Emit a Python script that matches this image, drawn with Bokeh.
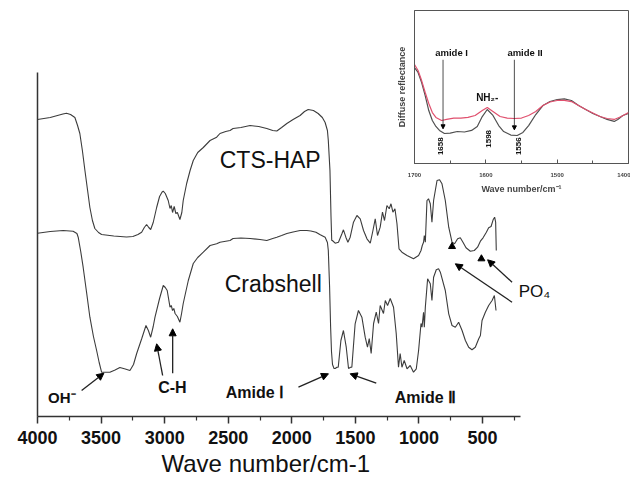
from bokeh.plotting import figure
from bokeh.models import Range1d, FixedTicker, Label, Arrow, NormalHead, Title
from bokeh.embed import file_html
from bokeh.resources import INLINE
import math

# ---------------- data ----------------
cts_w = [4000, 3900, 3800, 3772, 3740, 3706, 3685, 3667, 3647, 3627, 3607, 3588, 3568, 3549, 3520,
         3496, 3400, 3300, 3250, 3210, 3181, 3160, 3142, 3125, 3110, 3090, 3063, 3040, 3020, 3011,
         2995, 2972, 2958, 2948, 2938, 2925, 2912, 2900, 2880, 2865, 2854, 2827, 2800, 2775, 2740,
         2696, 2643, 2591, 2565, 2520, 2486, 2462, 2400, 2328, 2260, 2197, 2150, 2118, 2080, 2039,
         1990, 1935, 1900, 1871, 1830, 1793, 1760, 1738, 1720, 1713, 1700, 1692, 1686, 1681, 1659,
         1633, 1606, 1594, 1575, 1559, 1541, 1515, 1488, 1462, 1436, 1409, 1383, 1362, 1344, 1326,
         1305, 1287, 1271, 1252, 1234, 1220, 1205, 1189, 1173, 1157, 1134, 1094, 1043, 1003, 984,
         974, 964, 958, 950, 937, 925, 911, 898, 885, 858, 838, 819, 793, 766, 740,
         720, 696, 675, 654, 630, 596, 565, 539, 517, 496, 470, 452, 433, 417, 405,
         397, 392]
cts_t = [297, 299, 302.5, 303.3, 302, 299, 291, 283, 266, 246, 227, 209, 196, 188, 184,
         182, 180.5, 179.5, 180, 182, 184.3, 189, 192, 189, 187, 194, 209, 220, 224.5, 225.3,
         223, 216, 208, 211, 204, 210, 203, 204, 197, 204, 216, 233, 246, 256, 264,
         269, 276, 279.3, 283, 285, 286, 288, 289, 291, 290, 288, 286, 285.5, 289, 293,
         297, 301, 305, 307, 306, 303, 299, 294, 286, 276, 246, 201, 176, 176, 173.3,
         174.3, 182.7, 186.7, 179.3, 174.3, 179.3, 194.3, 201, 197.7, 186, 177.7, 173.3, 186, 197.7, 181,
         189.3, 204.3, 196, 211, 207.7, 212.7, 204.3, 207.7, 192.7, 167.7, 164.3, 161, 157.7, 161, 166,
         171, 174.3, 181, 174.3, 216, 217.7, 212.7, 194.3, 216, 236, 236.7, 232.7, 216, 189.3, 174.3,
         172.7, 177.7, 178.7, 174.3, 168.7, 165.3, 166, 169.3, 175.3, 178.7, 184.3, 188.7, 190, 196.7, 199.3,
         194.3, 166]

crab_w = [4000, 3900, 3798, 3720, 3690, 3680, 3660, 3641, 3615, 3588, 3560, 3535, 3515, 3496, 3431,
          3390, 3352, 3310, 3273, 3245, 3220, 3180, 3147, 3128, 3110, 3090, 3076, 3040, 3011, 2995,
          2980, 2958, 2948, 2938, 2928, 2918, 2900, 2880, 2867, 2854, 2835, 2814, 2775, 2740, 2696,
          2643, 2591, 2565, 2486, 2462, 2400, 2328, 2250, 2197, 2150, 2118, 2080, 2039, 1990, 1935,
          1882, 1850, 1810, 1780, 1738, 1720, 1713, 1703, 1695, 1688, 1680, 1668, 1659, 1645, 1635,
          1614, 1594, 1572, 1554, 1538, 1528, 1502, 1476, 1449, 1423, 1405, 1391, 1376, 1357, 1336,
          1318, 1305, 1279, 1265, 1247, 1226, 1200, 1179, 1161, 1148, 1134, 1116, 1094, 1069, 1043,
          1021, 1003, 984, 976, 964, 958, 950, 932, 911, 898, 885, 864, 846, 832, 793,
          766, 740, 714, 688, 661, 635, 609, 583, 557, 530, 517, 504, 478, 452, 425,
          407, 394]
crab_t = [183.3, 185, 186, 185.3, 183, 179.3, 165, 149.3, 125, 99.3, 80, 66, 54, 44.3, 44.3,
          46.5, 49, 47.5, 46, 52, 63, 78, 91, 86, 79.3, 90, 99.3, 118, 131, 129,
          126, 109.3, 111, 106, 108, 103, 100, 94.3, 103, 113, 124, 136, 153, 159, 164.3,
          171, 172.7, 174.3, 176, 178, 178.5, 178, 177, 176, 178, 179.3, 181, 183, 184.5, 186,
          186, 185.5, 184.3, 182, 179.3, 174, 166, 130, 90, 65, 52, 48, 48, 49.3, 49.3,
          76, 86, 69.3, 48, 49.3, 49.3, 92.7, 106, 99.3, 79.3, 69.3, 78, 63, 93, 104.3,
          93, 111, 103, 116, 111, 118, 109.3, 83, 49.3, 63, 49.3, 56, 47.7, 51, 44.3,
          47.7, 66, 93, 89.3, 104.3, 89.3, 109.3, 137.7, 132.7, 116, 139.3, 146.7, 147.7, 144.3, 126,
          102.7, 91, 89.3, 94.3, 86, 76, 69.3, 66.7, 69.3, 77.7, 81, 96, 104.3, 111, 116,
          121, 106]

po4_w = [740, 509]
po4_t = [170, 157.7]

x_ticks = [4000, 3500, 3000, 2500, 2000, 1500, 1000, 500]
x_minor = [3750, 3250, 2750, 2250, 1750, 1250, 750, 250]

ins_w = [1700, 1695, 1690, 1685, 1680, 1675, 1670, 1665, 1658, 1650, 1640, 1630, 1620, 1612, 1605,
         1598, 1590, 1582, 1575, 1565, 1556, 1548, 1540, 1530, 1520, 1510, 1500, 1490, 1480, 1470,
         1460, 1450, 1440, 1430, 1420, 1415, 1408, 1400]
ins_black = [62.7, 59.5, 52.9, 44.4, 34.6, 28.1, 24.2, 21.6, 19.6, 19.9, 20.9, 20.6, 21.6, 24.2, 30.7,
             35.3, 31.4, 24.8, 20.9, 18.6, 18.3, 20.3, 24.8, 32.0, 37.9, 40.5, 41.8, 42.2, 41.2, 37.9,
             35.3, 32.7, 30.7, 28.8, 27.5, 28.8, 31.4, 32.7]
ins_w_red = [1700, 1695, 1690, 1685, 1680, 1675, 1670, 1662, 1655, 1645, 1635, 1625, 1615, 1605, 1598,
             1590, 1580, 1570, 1560, 1550, 1540, 1530, 1520, 1510, 1500, 1490, 1480, 1470, 1460, 1450,
             1440, 1430, 1420, 1410, 1400]
ins_red = [64.7, 60.8, 54.2, 46.4, 39.2, 33.3, 30.1, 28.1, 28.8, 29.7, 29.7, 30.1, 31.4, 34.6, 36.6,
           34.0, 30.7, 29.7, 29.4, 29.7, 31.4, 34.0, 37.9, 40.2, 41.2, 41.2, 40.5, 37.9, 35.3, 33.0,
           30.7, 29.4, 28.8, 30.7, 33.3]
ins_ticks = [1700, 1600, 1500, 1400]
ins_minor = [1650, 1550, 1450]
ins_peaks = ["1658", "1598", "1556"]

FONT = "Liberation Sans"
LINE = "#3c3c3c"

# ---------------- main figure ----------------
# frame extends a little to the right of the axis end so the PO4 label is not clipped
p = figure(width=635, height=479, x_range=Range1d(4000, -113), y_range=Range1d(0, 344),
           output_backend="svg", toolbar_location=None,
           min_border_left=37, min_border_right=75, min_border_top=72, min_border_bottom=63)
p.xgrid.visible = False
p.ygrid.visible = False
p.outline_line_color = None
p.background_fill_color = "white"

xa = p.xaxis[0]
xa.bounds = (200, 4000)
xa.ticker = FixedTicker(ticks=x_ticks, minor_ticks=x_minor)
xa.axis_line_color = "#333333"
xa.axis_line_width = 1.5
xa.major_tick_line_color = "#333333"
xa.major_tick_line_width = 1.5
xa.minor_tick_line_color = "#333333"
xa.minor_tick_line_width = 1.2
xa.major_tick_in = 0
xa.major_tick_out = 7
xa.minor_tick_in = 0
xa.minor_tick_out = 4
xa.major_label_text_font = FONT
xa.major_label_text_font_style = "bold"
xa.major_label_text_font_size = "18px"
xa.major_label_text_color = "#111111"
xa.major_label_standoff = 7

ya = p.yaxis[0]
ya.ticker = FixedTicker(ticks=[])
ya.axis_line_color = "#333333"
ya.axis_line_width = 1.5
ya.major_tick_line_color = None
ya.minor_tick_line_color = None

# x-axis title, aligned under the axis (which ends at 200 cm-1)
p.add_layout(Title(text="Wave number/cm-1", align="left", offset=124, standoff=2,
                   text_font=FONT, text_font_size="24px", text_font_style="normal",
                   text_color="#111111"), "below")

p.line(cts_w, cts_t, line_color=LINE, line_width=1.1)
p.line(crab_w, crab_t, line_color=LINE, line_width=1.1)
p.scatter(po4_w, po4_t, marker="triangle", size=7, color="black")

def lab(fig, x, y, text, size, bold=False, align="center", angle=0.0, font=FONT, color="#111111"):
    fig.add_layout(Label(x=x, y=y, text=text, text_font=font, text_font_size=size,
                         text_font_style="bold" if bold else "normal", text_align=align,
                         text_baseline="middle", angle=angle, text_color=color))

lab(p, 2170, 257, "CTS-HAP", "23px")
lab(p, 2146, 133, "Crabshell", "23px")
lab(p, 3917, 19.3, "OH⁻", "15px", bold=True, align="left")
lab(p, 2939, 29.3, "C-H", "16px", bold=True)
lab(p, 2520, 24, "Amide Ⅰ", "16px", bold=True, align="left")
lab(p, 1190, 19, "Amide Ⅱ", "16px", bold=True, align="left")
lab(p, 216, 125.3, "PO₄", "17px", align="left")

def arrow(fig, xs, ys, xe, ye, size=7, width=1.3):
    fig.add_layout(Arrow(end=NormalHead(size=size, fill_color="black", line_color="black", line_width=1),
                         x_start=xs, y_start=ys, x_end=xe, y_end=ye,
                         line_color="#222222", line_width=width))

arrow(p, 3653, 26, 3478, 43.3)
arrow(p, 3016, 41, 3063, 72.7)
arrow(p, 2937, 43.3, 2937, 87.7)
arrow(p, 1948, 29.3, 1712, 42.7)
arrow(p, 1336, 33.3, 1541, 42.7)
arrow(p, 268, 114.3, 714, 152.7)
arrow(p, 268, 134.3, 460, 156.7)

# ---------------- inset figure ----------------
q = figure(width=240, height=196, x_range=Range1d(1700, 1400), y_range=Range1d(0, 100),
           output_backend="svg", toolbar_location=None,
           min_border_left=24, min_border_right=2, min_border_top=10, min_border_bottom=33)
q.xgrid.visible = False
q.ygrid.visible = False
q.outline_line_color = "#555555"
q.outline_line_width = 1
q.background_fill_color = "white"
q.border_fill_color = None

qx = q.xaxis[0]
qx.ticker = FixedTicker(ticks=ins_ticks, minor_ticks=ins_minor)
qx.axis_line_color = "#555555"
qx.major_tick_line_color = "#555555"
qx.minor_tick_line_color = "#555555"
qx.major_tick_in = 4
qx.major_tick_out = 0
qx.minor_tick_in = 3
qx.minor_tick_out = 0
qx.major_label_text_font = FONT
qx.major_label_text_font_style = "bold"
qx.major_label_text_font_size = "6px"
qx.major_label_standoff = 9
qx.axis_label = "Wave number/cm⁻¹"
qx.axis_label_text_font = FONT
qx.axis_label_text_font_style = "bold"
qx.axis_label_text_font_size = "9px"
qx.axis_label_standoff = 4

qy = q.yaxis[0]
qy.ticker = FixedTicker(ticks=[])
qy.axis_line_color = "#555555"
qy.major_tick_line_color = None
qy.minor_tick_line_color = None
qy.axis_label = "Diffuse reflectance"
qy.axis_label_text_font = FONT
qy.axis_label_text_font_style = "bold"
qy.axis_label_text_font_size = "9px"
qy.axis_label_standoff = 8

q.line(ins_w, ins_black, line_color="#505050", line_width=1.2)
q.line(ins_w_red, ins_red, line_color="#e0506e", line_width=1.2)

lab(q, 1648, 72.8, "amide I", "9.5px", bold=True)
lab(q, 1545, 72.8, "amide II", "9.5px", bold=True)
lab(q, 1598, 43.3, "NH₂-", "10px", bold=True)
arrow(q, 1660, 67.8, 1660, 22.7, size=4, width=0.8)
arrow(q, 1560, 67.8, 1560, 22, size=4, width=0.8)
lab(q, 1663.5, 11.3, ins_peaks[0], "8px", bold=True, angle=math.pi / 2)
lab(q, 1596.7, 16.1, ins_peaks[1], "8px", bold=True, angle=math.pi / 2)
lab(q, 1553.7, 11.3, ins_peaks[2], "8px", bold=True, angle=math.pi / 2)

# the inset is its own root, pinned over the top-right corner of the page
q.styles = {"position": "fixed", "left": "390px", "top": "0px", "z-index": "10"}

open("out.html", "w").write(file_html([p, q], INLINE))
